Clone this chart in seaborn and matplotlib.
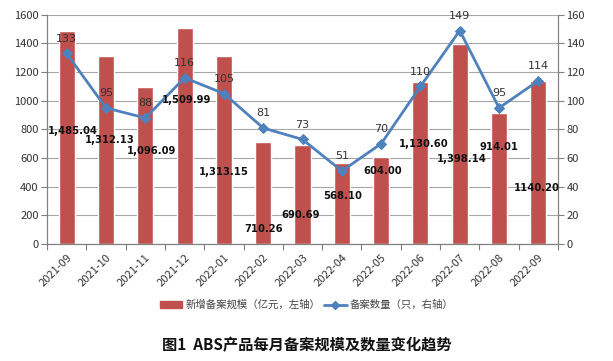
import numpy as np
import pandas as pd
import matplotlib
matplotlib.use("Agg")
import matplotlib.pyplot as plt
import seaborn as sns
from matplotlib.patches import Patch
from matplotlib.lines import Line2D

months = ["2021-09", "2021-10", "2021-11", "2021-12", "2022-01", "2022-02", "2022-03",
          "2022-04", "2022-05", "2022-06", "2022-07", "2022-08", "2022-09"]
scale = [1485.04, 1312.13, 1096.09, 1509.99, 1313.15, 710.26, 690.69,
         568.10, 604.00, 1130.60, 1398.14, 914.01, 1140.20]
scale_labels = ["1,485.04", "1,312.13", "1,096.09", "1,509.99", "1,313.15", "710.26", "690.69",
                "568.10", "604.00", "1,130.60", "1,398.14", "914.01", "1140.20"]
counts = [133, 95, 88, 116, 105, 81, 73, 51, 70, 110, 149, 95, 114]

# label placement (left-axis units / category offsets), Excel-like scatter of labels
label_y = [788, 726, 649, 1005, 502, 105, 202, 335, 510, 698, 593, 677, 391]
label_dx = [0.15, 0.1, 0.15, 0.05, 0.0, 0.0, -0.05, 0.03, 0.05, 0.08, 0.05, 0.0, -0.03]

sns.set_theme(style="white")
plt.rcParams['font.family'] = ['Noto Sans CJK SC', 'DejaVu Sans']

BAR = "#C0504D"
LINE = "#4F81BD"
GRID = "#A6A6A6"

fig = plt.figure(figsize=(6.13, 3.61), dpi=100)
ax = fig.add_axes([0.0767, 0.324, 0.8336, 0.635])

df = pd.DataFrame({"month": months, "scale": scale, "count": counts})
sns.barplot(data=df, x="month", y="scale", color=BAR, width=0.41, saturation=1,
            ax=ax, zorder=2)
ax.set_ylim(0, 1600)
ax.set_yticks(range(0, 1601, 200))
ax.set_xlim(-0.5, len(months) - 0.5)
ax.set_xlabel("")
ax.set_ylabel("")
ax.yaxis.grid(True, color=GRID, linewidth=0.8, zorder=0)
ax.set_axisbelow(True)

ax2 = ax.twinx()
x_idx = np.arange(len(months))
sns.lineplot(x=x_idx, y=counts, ax=ax2, color=LINE, linewidth=2, marker="D",
             markersize=5, markeredgecolor=LINE, zorder=3)
ax2.set_ylim(0, 160)
ax2.set_yticks(range(0, 161, 20))
ax2.set_ylabel("")

for s in ["top"]:
    ax.spines[s].set_visible(False)
    ax2.spines[s].set_visible(False)
for a in (ax, ax2):
    for s in ["left", "right", "bottom"]:
        a.spines[s].set_color("#808080")
        a.spines[s].set_linewidth(0.8)

ax.tick_params(axis="y", labelsize=8, length=4, width=0.8, color="#808080",
               labelcolor="#333333", left=True, pad=2)
ax2.tick_params(axis="y", labelsize=8, length=4, width=0.8, color="#808080",
                labelcolor="#333333", right=True, pad=2)
ax.set_xticks(x_idx)
ax.set_xticklabels(months, rotation=45, ha="right", rotation_mode="anchor",
                   fontsize=8, color="#333333")
ax.tick_params(axis="x", length=0, pad=6)
ax.set_xticks(np.arange(-0.5, len(months), 1), minor=True)
ax.tick_params(axis="x", which="minor", length=4, width=0.8, color="#808080", bottom=True)

# line labels
for i, c in enumerate(counts):
    ax2.annotate(str(c), (i, c), xytext=(0, 7), textcoords="offset points",
                 ha="center", va="bottom", fontsize=8, color="#333333",
                 family=["DejaVu Sans"], zorder=5)
# bar labels
for i, (lab, ly) in enumerate(zip(scale_labels, label_y)):
    ax2.text(i + label_dx[i], ly / 10.0, lab, ha="center", va="center", fontsize=7.2,
             fontweight="bold", color="#111111", family=["DejaVu Sans"], zorder=6)

handles = [Patch(facecolor=BAR, edgecolor=BAR),
           Line2D([0], [0], color=LINE, linewidth=2, marker="D", markersize=4)]
fig.legend(handles, ["新增备案规模（亿元，左轴）", "备案数量（只，右轴）"],
           loc="center", bbox_to_anchor=(0.5, 0.155), ncol=2, frameon=False,
           fontsize=7.5, handlelength=2.2, columnspacing=0.3, handletextpad=0.3,
           labelcolor="#444444")

fig.text(0.5, 0.045, "图1  ABS产品每月备案规模及数量变化趋势", ha="center", va="center",
         fontsize=11, fontweight="bold", color="#111111")

fig.savefig("out.png", dpi=100)
